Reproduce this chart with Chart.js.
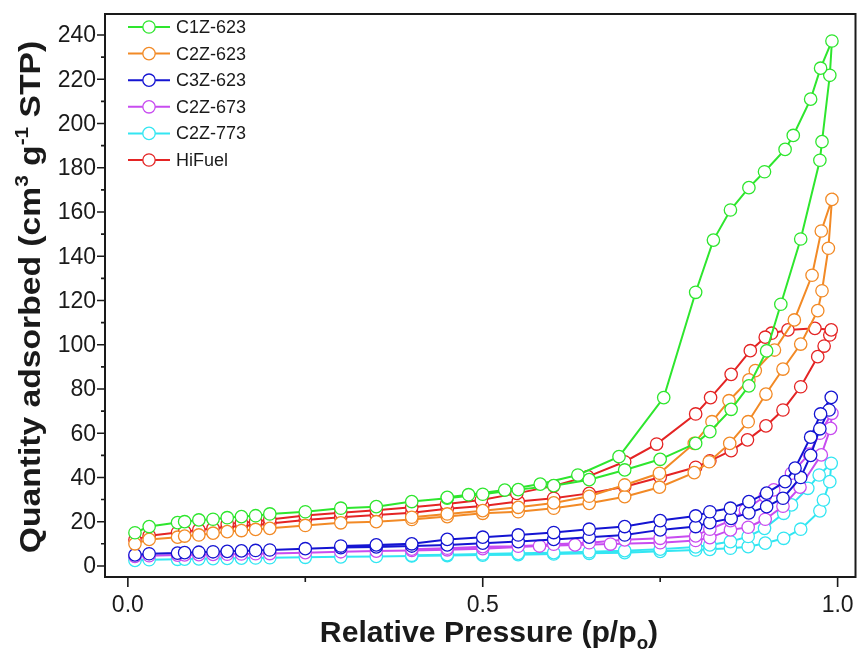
<!DOCTYPE html>
<html>
<head>
<meta charset="utf-8">
<title>N2 isotherms</title>
<script src="https://cdn.jsdelivr.net/npm/chart.js@4.4.1/dist/chart.umd.min.js"></script>
<style>
  html, body { margin: 0; padding: 0; background: #fff; }
  #isoChart { display: block; }
</style>
</head>
<body>
<canvas id="isoChart" width="863" height="655"></canvas>
<script>
// series names and colours
const seriesNames = ['C1Z-623', 'C2Z-623', 'C3Z-623', 'C2Z-673', 'C2Z-773', 'HiFuel'];
const seriesColors = ['#2ee62e', '#f28a26', '#1414d2', '#c84cf0', '#33e6f2', '#e42424'];

// adsorption branch (p rising) followed by desorption branch (p falling)
const c1z623X = [0.01,0.03,0.07,0.08,0.10,0.12,0.14,0.16,0.18,0.20,0.25,0.30,0.35,0.40,0.45,0.50,0.55,0.60,0.65,0.70,0.75,0.80,0.82,0.85,0.875,0.90,0.92,0.948,0.975,0.978,0.989,0.992,
                 0.976,0.962,0.9375,0.926,0.897,0.875,0.849,0.825,0.80,0.755,0.692,0.634,0.581,0.531,0.48,0.45];
const c1z623Y = [15.0,17.8,19.6,20.0,20.8,21.1,21.8,22.3,22.7,23.5,24.5,26.1,26.8,29.1,30.6,32.4,34.5,36.3,39.0,43.4,48.2,55.4,60.7,70.8,81.4,97.2,118.3,147.8,183.4,191.8,221.8,237.3,
                 225.0,211.0,194.6,188.3,178.2,171.0,160.9,147.3,123.7,76.1,49.4,41.1,37.0,34.3,32.2,31.0];

const c2z623X = [0.01,0.03,0.07,0.08,0.10,0.12,0.14,0.16,0.18,0.20,0.25,0.30,0.35,0.40,0.45,0.50,0.55,0.60,0.65,0.70,0.749,0.798,0.819,0.848,0.874,0.899,0.923,0.948,0.972,0.978,0.987,0.992,
                 0.977,0.964,0.939,0.911,0.884,0.875,0.847,0.823,0.798,0.749,0.70,0.65,0.60,0.55,0.50,0.45,0.40];
const c2z623Y = [10.0,12.0,13.0,13.5,14.0,14.8,15.5,16.0,16.5,17.0,18.3,19.5,20.0,21.0,22.3,23.8,24.5,26.1,28.3,31.3,35.6,42.2,47.1,55.4,65.2,77.7,89.0,100.3,115.4,124.4,143.6,165.7,
                 151.4,131.4,111.2,97.6,88.3,84.1,74.7,65.2,55.4,41.9,36.6,31.5,28.5,26.5,25.0,23.5,22.0];

const c3z623X = [0.01,0.03,0.07,0.08,0.10,0.12,0.14,0.16,0.18,0.20,0.25,0.30,0.35,0.40,0.45,0.50,0.55,0.60,0.65,0.70,0.75,0.80,0.82,0.85,0.875,0.90,0.923,0.948,0.962,0.975,0.988,0.991,
                 0.976,0.962,0.94,0.926,0.90,0.875,0.849,0.82,0.80,0.75,0.70,0.65,0.60,0.55,0.50,0.45,0.40,0.35,0.30];
const c3z623Y = [5.0,5.5,5.8,6.0,6.2,6.4,6.6,6.8,7.0,7.2,7.8,8.3,8.6,9.0,9.5,10.3,11.0,12.0,13.0,14.0,16.3,17.8,19.6,21.5,24.0,26.8,30.6,40.0,50.0,62.0,70.5,76.2,
                 68.7,58.2,44.2,38.1,32.9,29.1,26.1,24.5,22.6,20.5,17.8,16.6,15.1,14.0,13.0,12.0,10.0,9.5,9.0];

const c2z673X = [0.01,0.03,0.07,0.08,0.10,0.12,0.14,0.16,0.18,0.20,0.25,0.30,0.35,0.40,0.45,0.50,0.58,0.63,0.68,0.75,0.80,0.82,0.849,0.874,0.898,0.923,0.947,0.977,0.99,0.992,
                 0.975,0.96,0.935,0.91,0.898,0.87,0.849,0.82,0.80,0.75,0.70,0.65,0.60,0.55,0.50,0.45,0.40];
const c2z673Y = [4.3,4.6,4.9,5.0,5.1,5.2,5.3,5.4,5.5,5.6,6.0,6.4,6.7,7.0,7.3,7.8,9.0,9.5,9.9,10.5,11.5,12.8,16.3,17.5,21.1,27.0,35.6,50.2,62.2,69.0,
                 60.0,50.6,41.9,34.4,31.6,25.3,20.5,16.6,13.6,12.5,11.8,10.5,9.8,8.9,8.7,8.0,7.6];

const c2z773X = [0.01,0.03,0.07,0.08,0.10,0.12,0.14,0.16,0.18,0.20,0.25,0.30,0.35,0.40,0.45,0.50,0.55,0.60,0.65,0.70,0.75,0.80,0.82,0.849,0.874,0.898,0.924,0.948,0.975,0.98,0.989,0.991,
                 0.974,0.958,0.935,0.924,0.897,0.874,0.849,0.82,0.80,0.75,0.70,0.65,0.60,0.55,0.50,0.45,0.40];
const c2z773Y = [2.5,2.8,3.0,3.1,3.2,3.3,3.4,3.5,3.6,3.7,3.9,4.1,4.3,4.5,4.7,4.9,5.1,5.4,5.7,6.0,6.6,7.2,7.5,8.0,8.7,10.3,12.5,16.6,24.9,29.8,38.1,46.4,
                 41.1,35.1,27.6,23.8,17.0,13.3,11.0,9.5,8.6,7.6,6.9,6.4,6.0,5.7,5.4,5.1,4.8];

const hifuelX = [0.01,0.03,0.07,0.08,0.10,0.12,0.14,0.16,0.18,0.20,0.25,0.30,0.35,0.40,0.45,0.50,0.55,0.60,0.65,0.70,0.75,0.80,0.82,0.85,0.873,0.899,0.923,0.948,0.972,0.981,0.989,0.991,
                 0.968,0.93,0.907,0.898,0.877,0.85,0.821,0.80,0.745,0.70,0.648,0.60,0.548,0.498,0.449,0.40,0.35,0.30,0.25,0.20,0.18,0.16,0.14];
const hifuelY = [11.8,13.7,15.1,15.5,16.3,17.0,17.6,18.0,18.5,19.2,20.8,22.0,23.0,24.0,25.8,27.1,29.1,30.6,32.8,35.8,40.1,44.6,47.5,52.1,57.0,63.3,70.5,81.0,94.6,99.4,104.4,106.7,
                 107.4,106.7,105.2,103.4,97.3,86.6,76.1,68.7,55.1,47.1,40.4,36.2,32.8,29.8,28.0,26.5,25.2,24.0,22.8,21.0,20.0,19.5,19.0];

// axis ticks
const xMajorTicks = [0.0, 0.5, 1.0];
const xMinorTicks = [0.25, 0.75];
const xTickLabels = ['0.0', '0.5', '1.0'];
const yMajorTicks = [0, 20, 40, 60, 80, 100, 120, 140, 160, 180, 200, 220, 240];
const yMinorTicks = [10, 30, 50, 70, 90, 110, 130, 150, 170, 190, 210, 230];

const seriesX = [c1z623X, c2z623X, c3z623X, c2z673X, c2z773X, hifuelX];
const seriesY = [c1z623Y, c2z623Y, c3z623Y, c2z673Y, c2z773Y, hifuelY];

const datasets = seriesNames.map((name, i) => ({
  label: name,
  data: seriesX[i].map((x, k) => ({ x: x, y: seriesY[i][k] })),
  showLine: true,
  borderColor: seriesColors[i],
  borderWidth: 2,
  pointRadius: 6.2,
  pointBorderWidth: 1.3,
  pointBackgroundColor: '#ffffff',
  pointBorderColor: seriesColors[i],
  tension: 0
}));

const FONT = '"Liberation Sans", Arial, Helvetica, sans-serif';
const INK = '#1a1a1a';

// draw text runs with super/subscripts centred on (0,0) of current transform
function drawRuns(ctx, runs, size, stretch) {
  const small = Math.round(size * 0.62);
  let total = 0;
  runs.forEach(r => {
    ctx.font = 'bold ' + (r.sup || r.sub ? small : size) + 'px ' + FONT;
    r.w = ctx.measureText(r.t).width;
    total += r.w;
  });
  ctx.scale(stretch, 1);
  let x = -total / 2;
  ctx.textBaseline = 'alphabetic';
  ctx.textAlign = 'left';
  runs.forEach(r => {
    ctx.font = 'bold ' + (r.sup || r.sub ? small : size) + 'px ' + FONT;
    let dy = size * 0.36;
    if (r.sup) dy -= size * 0.42;
    if (r.sub) dy += size * 0.22;
    ctx.fillText(r.t, x, dy);
    x += r.w;
  });
}

const framePlugin = {
  id: 'frame',
  afterDatasetsDraw(chart) {
    const { ctx, chartArea: a, scales } = chart;
    const xs = scales.x, ys = scales.y;
    ctx.save();
    ctx.strokeStyle = INK;
    ctx.lineWidth = 2;
    ctx.strokeRect(a.left, a.top, a.right - a.left, a.bottom - a.top);

    // ticks
    ctx.lineWidth = 1.6;
    ctx.beginPath();
    xMajorTicks.forEach(v => { const px = xs.getPixelForValue(v); ctx.moveTo(px, a.bottom); ctx.lineTo(px, a.bottom + 10); });
    xMinorTicks.forEach(v => { const px = xs.getPixelForValue(v); ctx.moveTo(px, a.bottom); ctx.lineTo(px, a.bottom + 5); });
    yMajorTicks.forEach(v => { const py = ys.getPixelForValue(v); ctx.moveTo(a.left, py); ctx.lineTo(a.left - 8, py); });
    yMinorTicks.forEach(v => { const py = ys.getPixelForValue(v); ctx.moveTo(a.left, py); ctx.lineTo(a.left - 4, py); });
    ctx.stroke();

    // tick labels
    ctx.fillStyle = INK;
    ctx.font = '23px ' + FONT;
    ctx.textAlign = 'center';
    ctx.textBaseline = 'middle';
    xMajorTicks.forEach((v, i) => ctx.fillText(xTickLabels[i], xs.getPixelForValue(v), a.bottom + 29));
    ctx.textAlign = 'right';
    yMajorTicks.forEach(v => ctx.fillText(String(v), a.left - 9, ys.getPixelForValue(v) + 1));

    // axis titles
    ctx.save();
    ctx.translate(489, 632);
    drawRuns(ctx, [{ t: 'Relative Pressure (p/p' }, { t: 'o', sub: true }, { t: ')' }], 29, 1.04);
    ctx.restore();

    ctx.save();
    ctx.translate(30, 297);
    ctx.rotate(-Math.PI / 2);
    drawRuns(ctx, [{ t: 'Quantity adsorbed (cm' }, { t: '3', sup: true }, { t: ' g' }, { t: '-1', sup: true }, { t: ' STP)' }], 29, 1.16);
    ctx.restore();

    // legend
    ctx.font = '18px ' + FONT;
    ctx.textAlign = 'left';
    ctx.textBaseline = 'middle';
    seriesNames.forEach((name, i) => {
      const y = 27 + 26.6 * i;
      ctx.strokeStyle = seriesColors[i];
      ctx.lineWidth = 2;
      ctx.beginPath();
      ctx.moveTo(128, y); ctx.lineTo(170, y);
      ctx.stroke();
      ctx.beginPath();
      ctx.arc(149, y, 6.2, 0, Math.PI * 2);
      ctx.fillStyle = '#fff';
      ctx.fill();
      ctx.lineWidth = 1.3;
      ctx.stroke();
      ctx.fillStyle = INK;
      ctx.fillText(name, 176, y + 1);
    });
    ctx.restore();
  }
};

const ctx = document.getElementById('isoChart').getContext('2d');
new Chart(ctx, {
  type: 'scatter',
  data: { datasets: datasets },
  options: {
    responsive: false,
    animation: false,
    devicePixelRatio: 1,
    layout: { padding: { left: 105, right: 2, top: 14, bottom: 78 } },
    plugins: { legend: { display: false }, tooltip: { enabled: false } },
    scales: {
      x: { type: 'linear', min: -0.0322, max: 1.0252, display: false },
      y: { type: 'linear', min: -5, max: 249.5, display: false }
    }
  },
  plugins: [framePlugin]
});
</script>
</body>
</html>
